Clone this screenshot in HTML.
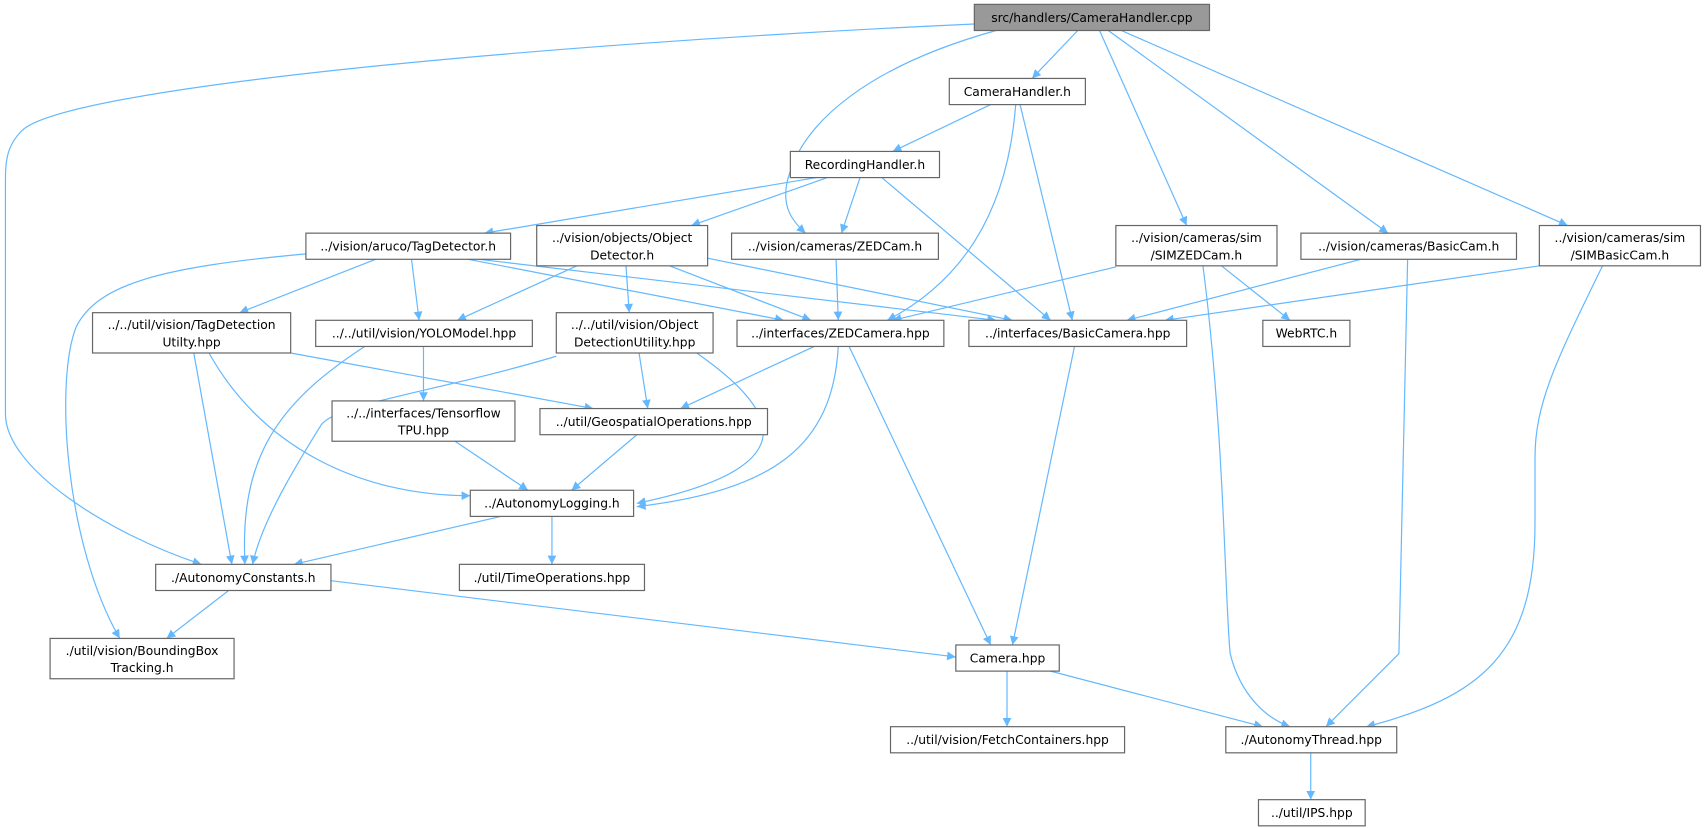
<!DOCTYPE html>
<html><head><meta charset="utf-8"><style>
html,body{margin:0;padding:0;background:#fff;}
svg{display:block;}
text{font-family:"DejaVu Sans","Liberation Sans",sans-serif;font-size:11.3px;fill:#000;}
.n{fill:#fff;stroke:#666;stroke-width:1.1;}
.e{fill:none;stroke:#63b8ff;stroke-width:1.1;marker-end:url(#a);}
</style></head><body>
<svg width="1707" height="828" viewBox="0 0 1568 760" preserveAspectRatio="none" xmlns="http://www.w3.org/2000/svg">
<defs><marker id="a" viewBox="0 0 10 10" refX="10" refY="5" markerWidth="10" markerHeight="8" markerUnits="userSpaceOnUse" orient="auto"><path d="M0,0 L10,5 L0,10 z" fill="#63b8ff"/></marker></defs>
<g>
<path class="e" d="M895,22 C500,40 60,80 20,120 C5,135 5,150 5,170 L5,380 C5,430 100,490 185,518"/>
<path class="e" d="M990,28 L948,72"/>
<path class="e" d="M915,28 C800,60 740,110 725,160 C715,190 730,205 740,214"/>
<path class="e" d="M1010,28 L1090,207"/>
<path class="e" d="M1018,28 L1275,214"/>
<path class="e" d="M1030,28 L1440,207"/>
<path class="e" d="M910,96 L820,139"/>
<path class="e" d="M933,96 C925,200 880,260 815,294"/>
<path class="e" d="M937,96 L985,294"/>
<path class="e" d="M750,163 L445,214"/>
<path class="e" d="M760,163 L635,207"/>
<path class="e" d="M790,163 L773,214"/>
<path class="e" d="M810,163 L965,294"/>
<path class="e" d="M281,233 C150,245 90,260 70,300 C50,350 60,500 110,586"/>
<path class="e" d="M345,238 L220,287"/>
<path class="e" d="M378,238 L385,294"/>
<path class="e" d="M430,238 L720,294"/>
<path class="e" d="M440,238 L915,294"/>
<path class="e" d="M530,244 L420,294"/>
<path class="e" d="M575,244 L578,287"/>
<path class="e" d="M615,244 L745,294"/>
<path class="e" d="M650,237 L930,294"/>
<path class="e" d="M768,238 L770,294"/>
<path class="e" d="M1025,245 L820,294"/>
<path class="e" d="M1122,244 L1185,294"/>
<path class="e" d="M1105,244 C1125,400 1125,550 1130,600 C1140,640 1165,660 1185,667"/>
<path class="e" d="M1250,238 L1035,294"/>
<path class="e" d="M1293,238 L1285,600 L1218,667"/>
<path class="e" d="M1414,244 L1070,294"/>
<path class="e" d="M1472,244 C1430,330 1410,370 1410,420 L1410,480 C1410,600 1360,640 1255,667"/>
<path class="e" d="M267,324 L545,375"/>
<path class="e" d="M178,324 L213,518"/>
<path class="e" d="M192,324 C240,410 330,455 432,455"/>
<path class="e" d="M335,318 C255,370 220,420 225,518"/>
<path class="e" d="M389,318 L389,368"/>
<path class="e" d="M511,327 C400,360 310,370 295,390 C270,430 240,480 232,518"/>
<path class="e" d="M587,324 L595,375"/>
<path class="e" d="M640,324 C720,380 740,430 585,462"/>
<path class="e" d="M748,318 L625,375"/>
<path class="e" d="M770,318 C765,410 710,450 585,465"/>
<path class="e" d="M780,318 L910,592"/>
<path class="e" d="M987,318 L930,592"/>
<path class="e" d="M418,405 L485,450"/>
<path class="e" d="M585,399 L525,450"/>
<path class="e" d="M460,474 L270,518"/>
<path class="e" d="M507,474 L507,518"/>
<path class="e" d="M210,542 L153,586"/>
<path class="e" d="M304,533 L878,603"/>
<path class="e" d="M925,616 L925,667"/>
<path class="e" d="M965,616 L1160,667"/>
<path class="e" d="M1204,691 L1204,734"/>
</g>
<g>
<rect x="895" y="4" width="216" height="24" fill="#999" stroke="#666" stroke-width="1.1"/>
<text x="1003" y="20" text-anchor="middle">src/handlers/CameraHandler.cpp</text>
<rect class="n" x="872" y="72" width="125" height="24"/><text x="934.5" y="88" text-anchor="middle">CameraHandler.h</text>
<rect class="n" x="726" y="139" width="137" height="24"/><text x="794.5" y="155" text-anchor="middle">RecordingHandler.h</text>
<rect class="n" x="281" y="214" width="188" height="24"/><text x="375" y="230" text-anchor="middle">../vision/aruco/TagDetector.h</text>
<rect class="n" x="493" y="207" width="157" height="37"/><text x="571.5" y="222" text-anchor="middle">../vision/objects/Object</text><text x="571.5" y="238" text-anchor="middle">Detector.h</text>
<rect class="n" x="672" y="214" width="190" height="24"/><text x="767" y="230" text-anchor="middle">../vision/cameras/ZEDCam.h</text>
<rect class="n" x="1025" y="207" width="148" height="37"/><text x="1099" y="222" text-anchor="middle">../vision/cameras/sim</text><text x="1099" y="238" text-anchor="middle">/SIMZEDCam.h</text>
<rect class="n" x="1195" y="214" width="198" height="24"/><text x="1294" y="230" text-anchor="middle">../vision/cameras/BasicCam.h</text>
<rect class="n" x="1414" y="207" width="148" height="37"/><text x="1488" y="222" text-anchor="middle">../vision/cameras/sim</text><text x="1488" y="238" text-anchor="middle">/SIMBasicCam.h</text>
<rect class="n" x="85" y="287" width="182" height="37"/><text x="176" y="302" text-anchor="middle">../../util/vision/TagDetection</text><text x="176" y="318" text-anchor="middle">Utilty.hpp</text>
<rect class="n" x="290" y="294" width="199" height="24"/><text x="389.5" y="310" text-anchor="middle">../../util/vision/YOLOModel.hpp</text>
<rect class="n" x="511" y="287" width="144" height="37"/><text x="583" y="302" text-anchor="middle">../../util/vision/Object</text><text x="583" y="318" text-anchor="middle">DetectionUtility.hpp</text>
<rect class="n" x="677" y="294" width="190" height="24"/><text x="772" y="310" text-anchor="middle">../interfaces/ZEDCamera.hpp</text>
<rect class="n" x="890" y="294" width="200" height="24"/><text x="990" y="310" text-anchor="middle">../interfaces/BasicCamera.hpp</text>
<rect class="n" x="1160" y="294" width="80" height="24"/><text x="1200" y="310" text-anchor="middle">WebRTC.h</text>
<rect class="n" x="305" y="368" width="168" height="37"/><text x="389" y="383" text-anchor="middle">../../interfaces/Tensorflow</text><text x="389" y="399" text-anchor="middle">TPU.hpp</text>
<rect class="n" x="496" y="375" width="209" height="24"/><text x="600.5" y="391" text-anchor="middle">../util/GeospatialOperations.hpp</text>
<rect class="n" x="432" y="450" width="150" height="24"/><text x="507" y="466" text-anchor="middle">../AutonomyLogging.h</text>
<rect class="n" x="143" y="518" width="161" height="24"/><text x="223.5" y="534" text-anchor="middle">./AutonomyConstants.h</text>
<rect class="n" x="422" y="518" width="170" height="24"/><text x="507" y="534" text-anchor="middle">./util/TimeOperations.hpp</text>
<rect class="n" x="46" y="586" width="169" height="37"/><text x="130.5" y="601" text-anchor="middle">./util/vision/BoundingBox</text><text x="130.5" y="617" text-anchor="middle">Tracking.h</text>
<rect class="n" x="878" y="592" width="95" height="24"/><text x="925.5" y="608" text-anchor="middle">Camera.hpp</text>
<rect class="n" x="818" y="667" width="215" height="24"/><text x="925.5" y="683" text-anchor="middle">../util/vision/FetchContainers.hpp</text>
<rect class="n" x="1126" y="667" width="157" height="24"/><text x="1204.5" y="683" text-anchor="middle">./AutonomyThread.hpp</text>
<rect class="n" x="1156" y="734" width="98" height="24"/><text x="1205" y="750" text-anchor="middle">../util/IPS.hpp</text>
</g>
</svg>
</body></html>
